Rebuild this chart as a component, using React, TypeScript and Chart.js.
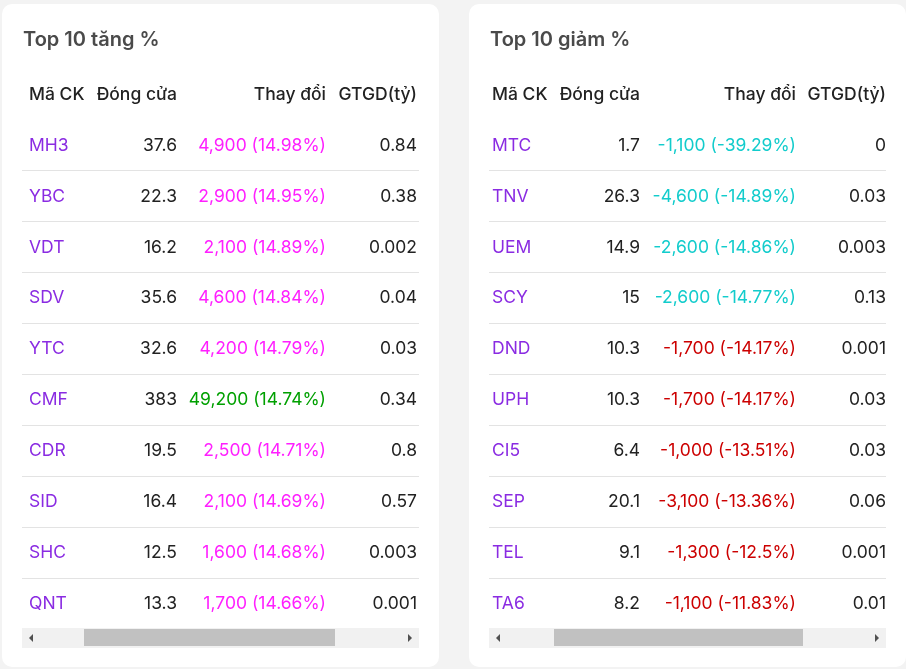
import React, { useEffect, useRef } from "react";
import { Chart, registerables } from "chart.js";

Chart.register(...registerables);

// ---- Data: Top 10 tăng % ----
const upTickers = ["MH3", "YBC", "VDT", "SDV", "YTC", "CMF", "CDR", "SID", "SHC", "QNT"];
const upClose = [37.6, 22.3, 16.2, 35.6, 32.6, 383, 19.5, 16.4, 12.5, 13.3];
const upChange = [4900, 2900, 2100, 4600, 4200, 49200, 2500, 2100, 1600, 1700];
const upPct = [14.98, 14.95, 14.89, 14.84, 14.79, 14.74, 14.71, 14.69, 14.68, 14.66];
const upValue = [0.84, 0.38, 0.002, 0.04, 0.03, 0.34, 0.8, 0.57, 0.003, 0.001];
const upStatus = ["ceil", "ceil", "ceil", "ceil", "ceil", "up", "ceil", "ceil", "ceil", "ceil"];

// ---- Data: Top 10 giảm % ----
const downTickers = ["MTC", "TNV", "UEM", "SCY", "DND", "UPH", "CI5", "SEP", "TEL", "TA6"];
const downClose = [1.7, 26.3, 14.9, 15, 10.3, 10.3, 6.4, 20.1, 9.1, 8.2];
const downChange = [-1100, -4600, -2600, -2600, -1700, -1700, -1000, -3100, -1300, -1100];
const downPct = [-39.29, -14.89, -14.86, -14.77, -14.17, -14.17, -13.51, -13.36, -12.5, -11.83];
const downValue = [0, 0.03, 0.003, 0.13, 0.001, 0.03, 0.03, 0.06, 0.001, 0.01];
const downStatus = ["floor", "floor", "floor", "floor", "down", "down", "down", "down", "down", "down"];

const headers = ["Mã CK", "Đóng cửa", "Thay đổi", "GTGD(tỷ)"];

const statusColor: Record<string, string> = {
  ceil: "#ff1fff",
  up: "#00a000",
  floor: "#12cccc",
  down: "#cc0000",
};

const FONT = "Inter, 'Noto Sans', sans-serif";
const FS = 17.5;
const CARD_W = 437;
const CARD_H = 663;

type PanelProps = {
  title: string;
  tickers: string[];
  close: number[];
  change: number[];
  pct: number[];
  value: number[];
  status: string[];
  tickPad: number;
  cols: number[];
  thumb: [number, number];
};

function fmtChange(c: number, p: number) {
  return c.toLocaleString("en-US") + " (" + p + "%)";
}

function Panel(props: PanelProps) {
  const ref = useRef<HTMLCanvasElement | null>(null);
  useEffect(() => {
    if (!ref.current) return;
    const p = props;
    const tablePlugin = {
      id: "tableText",
      afterDraw(chart: any) {
        const ctx = chart.ctx as CanvasRenderingContext2D;
        const area = chart.chartArea;
        const y = chart.scales.y;
        ctx.save();
        ctx.font = "600 20px " + FONT;
        ctx.fillStyle = "#4a4a4a";
        ctx.textAlign = "left";
        ctx.textBaseline = "middle";
        ctx.fillText(p.title, 21, 36);
        ctx.font = "500 " + FS + "px " + FONT;
        ctx.fillStyle = "#222";
        const hy = 91;
        ctx.fillText(headers[0], area.left + p.tickPad, hy);
        ctx.textAlign = "right";
        for (let i = 1; i < 4; i++) {
          ctx.fillText(headers[i], area.left + p.cols[i - 1], hy);
        }
        ctx.font = "400 " + FS + "px " + FONT;
        p.tickers.forEach((_t, i) => {
          const py = y.getPixelForValue(i);
          ctx.fillStyle = "#222";
          ctx.fillText(String(p.close[i]), area.left + p.cols[0], py);
          ctx.fillStyle = statusColor[p.status[i]];
          ctx.fillText(fmtChange(p.change[i], p.pct[i]), area.left + p.cols[1], py);
          ctx.fillStyle = "#222";
          ctx.fillText(String(p.value[i]), area.left + p.cols[2], py);
        });
        ctx.restore();
      },
    };
    const n = p.tickers.length;
    const chart = new Chart(ref.current, {
      type: "bar",
      data: {
        labels: p.tickers,
        datasets: [
          {
            data: p.close,
            backgroundColor: "rgba(0,0,0,0)",
            borderWidth: 0,
          },
        ],
      },
      options: {
        indexAxis: "y",
        animation: false,
        responsive: false,
        maintainAspectRatio: false,
        events: [],
        layout: { padding: { left: 20 - 2 * p.tickPad, right: 20, top: 116, bottom: 38 } },
        plugins: { legend: { display: false }, tooltip: { enabled: false }, title: { display: false } },
        scales: {
          x: { display: false, min: 0, max: 1000 },
          y: {
            type: "category",
            offset: true,
            border: { display: false },
            grid: {
              offset: true,
              drawTicks: false,
              lineWidth: 1,
              color: (c: any) => (c.index === 0 || c.index === n ? "rgba(0,0,0,0)" : "#e3e3e3"),
            },
            ticks: {
              mirror: true,
              padding: p.tickPad,
              color: "#8a2be2",
              font: { family: FONT, size: FS, weight: "400" as any },
            },
          },
        },
      },
      plugins: [tablePlugin],
    } as any);
    return () => chart.destroy();
  }, []);
  return (
    <div
      style={{
        position: "relative",
        width: CARD_W,
        height: CARD_H,
        background: "#fff",
        borderRadius: 10,
        overflow: "hidden",
      }}
    >
      <canvas ref={ref} width={CARD_W} height={CARD_H} style={{ position: "absolute", left: 0, top: 0 }} />
      <div
        style={{
          position: "absolute",
          left: 20,
          top: 624,
          width: 397,
          height: 20,
          background: "#f1f1f1",
        }}
      >
        <div
          style={{
            position: "absolute",
            left: props.thumb[0],
            width: props.thumb[1] - props.thumb[0],
            top: 1,
            height: 17,
            background: "#c1c1c1",
          }}
        />
        <div
          style={{
            position: "absolute",
            left: 7,
            top: 6,
            width: 0,
            height: 0,
            borderTop: "4px solid transparent",
            borderBottom: "4px solid transparent",
            borderRight: "4px solid #505050",
          }}
        />
        <div
          style={{
            position: "absolute",
            right: 7,
            top: 6,
            width: 0,
            height: 0,
            borderTop: "4px solid transparent",
            borderBottom: "4px solid transparent",
            borderLeft: "4px solid #505050",
          }}
        />
      </div>
    </div>
  );
}

export default function App() {
  return (
    <div
      style={{
        position: "fixed",
        left: 0,
        top: 0,
        width: 906,
        height: 669,
        background: "#f3f3f3",
        overflow: "hidden",
      }}
    >
      <div style={{ position: "absolute", left: 2, top: 4 }}>
        <Panel
          title="Top 10 tăng %"
          tickers={upTickers}
          close={upClose}
          change={upChange}
          pct={upPct}
          value={upValue}
          status={upStatus}
          tickPad={7}
          cols={[155, 304, 395]}
          thumb={[62, 313]}
        />
      </div>
      <div style={{ position: "absolute", left: 469, top: 4 }}>
        <Panel
          title="Top 10 giảm %"
          tickers={downTickers}
          close={downClose}
          change={downChange}
          pct={downPct}
          value={downValue}
          status={downStatus}
          tickPad={3}
          cols={[151, 307, 397]}
          thumb={[65, 314]}
        />
      </div>
    </div>
  );
}
